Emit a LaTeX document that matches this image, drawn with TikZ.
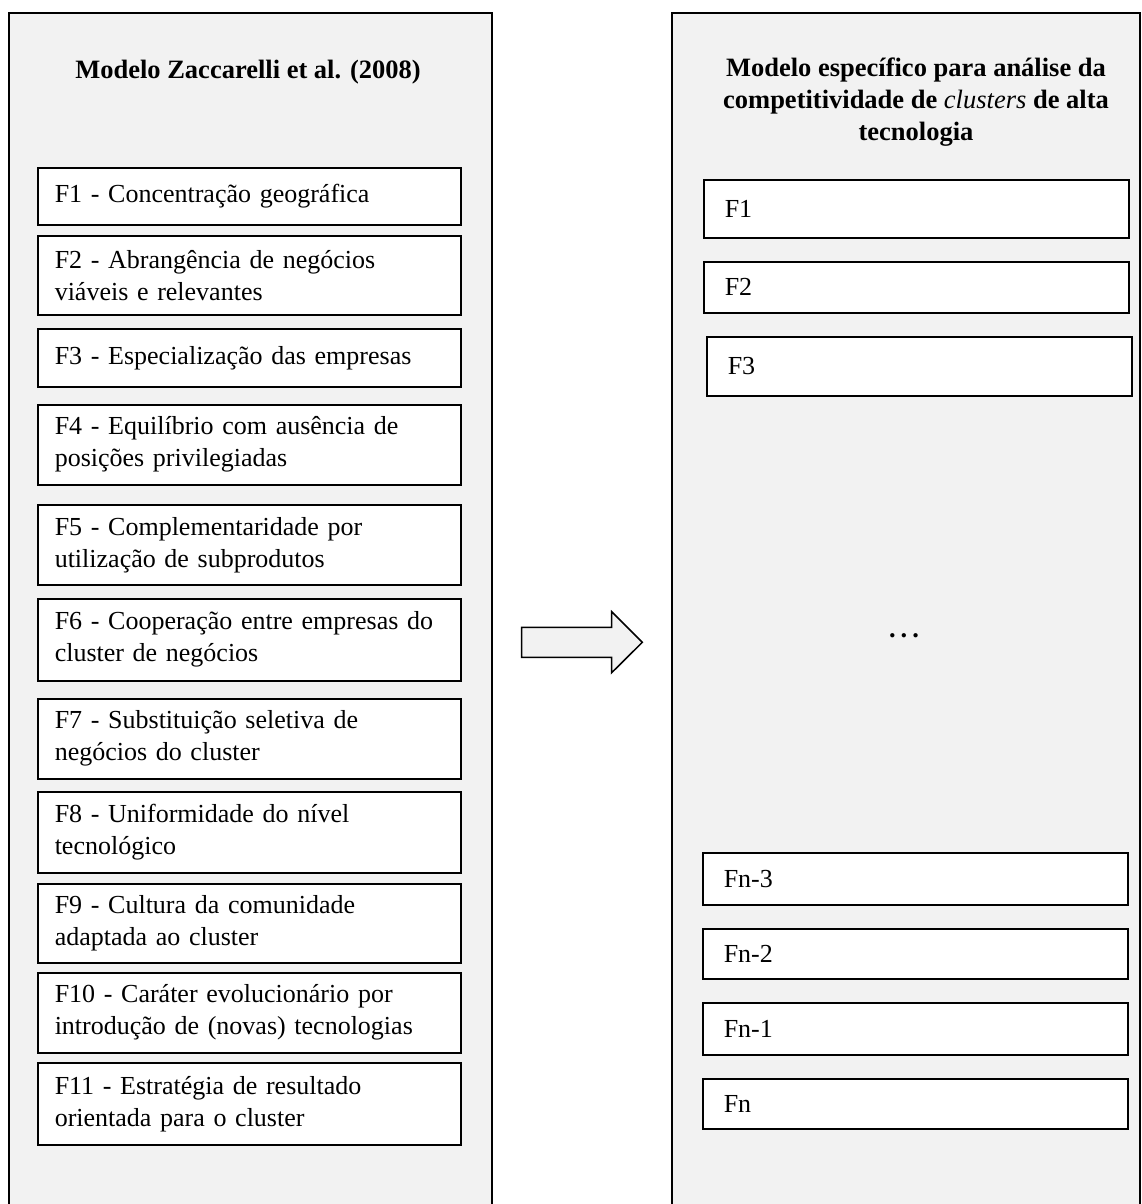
\documentclass[tikz,border=0pt]{standalone}
\usepackage{fontspec}
\setmainfont{Liberation Serif}
\usetikzlibrary{positioning}
\definecolor{panelgray}{HTML}{F2F2F2}
\tikzset{>=latex}

\begin{document}
\begin{tikzpicture}[x=1pt, y=-1pt,
        factor/.style={draw, fill=white, line width=1.5pt, anchor=north west, align=left,
            inner xsep=17pt, inner ysep=0pt, text width=389pt, minimum width=423pt,
            font=\fontsize{26}{32}\selectfont},
        newfactor/.style={factor, inner xsep=21pt, text width=383pt, minimum width=425pt},
        heading/.style={font=\fontsize{26.5}{32}\selectfont\bfseries, align=center, inner sep=0pt}]
        \useasboundingbox (0,0) rectangle (1141,1204);

        \fill [panelgray] (9,12.7) rectangle (492,1204);
        \draw [line width=2pt] (9,1204) |- (492,12.7) -- (492,1204);
        \fill [panelgray] (672,12.7) rectangle (1140,1204);
        \draw [line width=2pt] (672,1204) |- (1140,12.7) -- (1140,1204);

        \node [heading, anchor=base] (ZaccTitle) at (248,79) {Modelo Zaccarelli et al. (2008)};
        \node [heading] (NewTitle) at (916,102)
            {Modelo específico para análise da\\
             competitividade de {\mdseries\itshape clusters} de alta\\
             tecnologia};

        \node [factor, minimum height=57pt] (ZaccF1) at (37,167) {F1 - Concentração geográfica};
        \node [factor, minimum height=79pt] (ZaccF2) at (37,235) {F2 - Abrangência de negócios\\viáveis e relevantes};
        \node [factor, minimum height=58pt] (ZaccF3) at (37,328) {F3 - Especialização das empresas};
        \node [factor, minimum height=80pt] (ZaccF4) at (37,404) {F4 - Equilíbrio com ausência de\\posições privilegiadas};
        \node [factor, minimum height=80pt] (ZaccF5) at (37,504) {F5 - Complementaridade por\\utilização de subprodutos};
        \node [factor, minimum height=82pt] (ZaccF6) at (37,598) {F6 - Cooperação entre empresas do\\cluster de negócios};
        \node [factor, minimum height=80pt] (ZaccF7) at (37,698) {F7 - Substituição seletiva de\\negócios do cluster};
        \node [factor, minimum height=81pt] (ZaccF8) at (37,791) {F8 - Uniformidade do nível\\tecnológico};
        \node [factor, minimum height=79pt] (ZaccF9) at (37,883) {F9 - Cultura da comunidade\\adaptada ao cluster};
        \node [factor, minimum height=80pt] (ZaccF10) at (37,972) {F10 - Caráter evolucionário por\\introdução de (novas) tecnologias};
        \node [factor, minimum height=82pt] (ZaccF11) at (37,1062) {F11 - Estratégia de resultado\\orientada para o cluster};

        \node [newfactor, minimum height=58pt] (NewF1) at (703,179) {F1};
        \node [newfactor, minimum height=51pt] (NewF2) at (703,261) {F2};
        \node [newfactor, minimum height=59pt] (NewF3) at (706,336) {F3};
        \node [heading, anchor=base] (NewDots) at (904,637) {.\kern5pt.\kern5pt.};
        \node [newfactor, minimum height=52pt] (NewFn3) at (702,852) {Fn-3};
        \node [newfactor, minimum height=50pt] (NewFn2) at (702,928) {Fn-2};
        \node [newfactor, minimum height=52pt] (NewFn1) at (702,1002) {Fn-1};
        \node [newfactor, minimum height=50pt] (NewFn) at (702,1078) {Fn};

        \draw [fill=panelgray, line width=1.5pt] (521.7,627.3) -- (611.7,627.3) -- (611.7,611.7)
            -- (642.3,642.3) -- (611.7,672.7) -- (611.7,657.3) -- (521.7,657.3) -- cycle;
    \end{tikzpicture}
\end{document}
